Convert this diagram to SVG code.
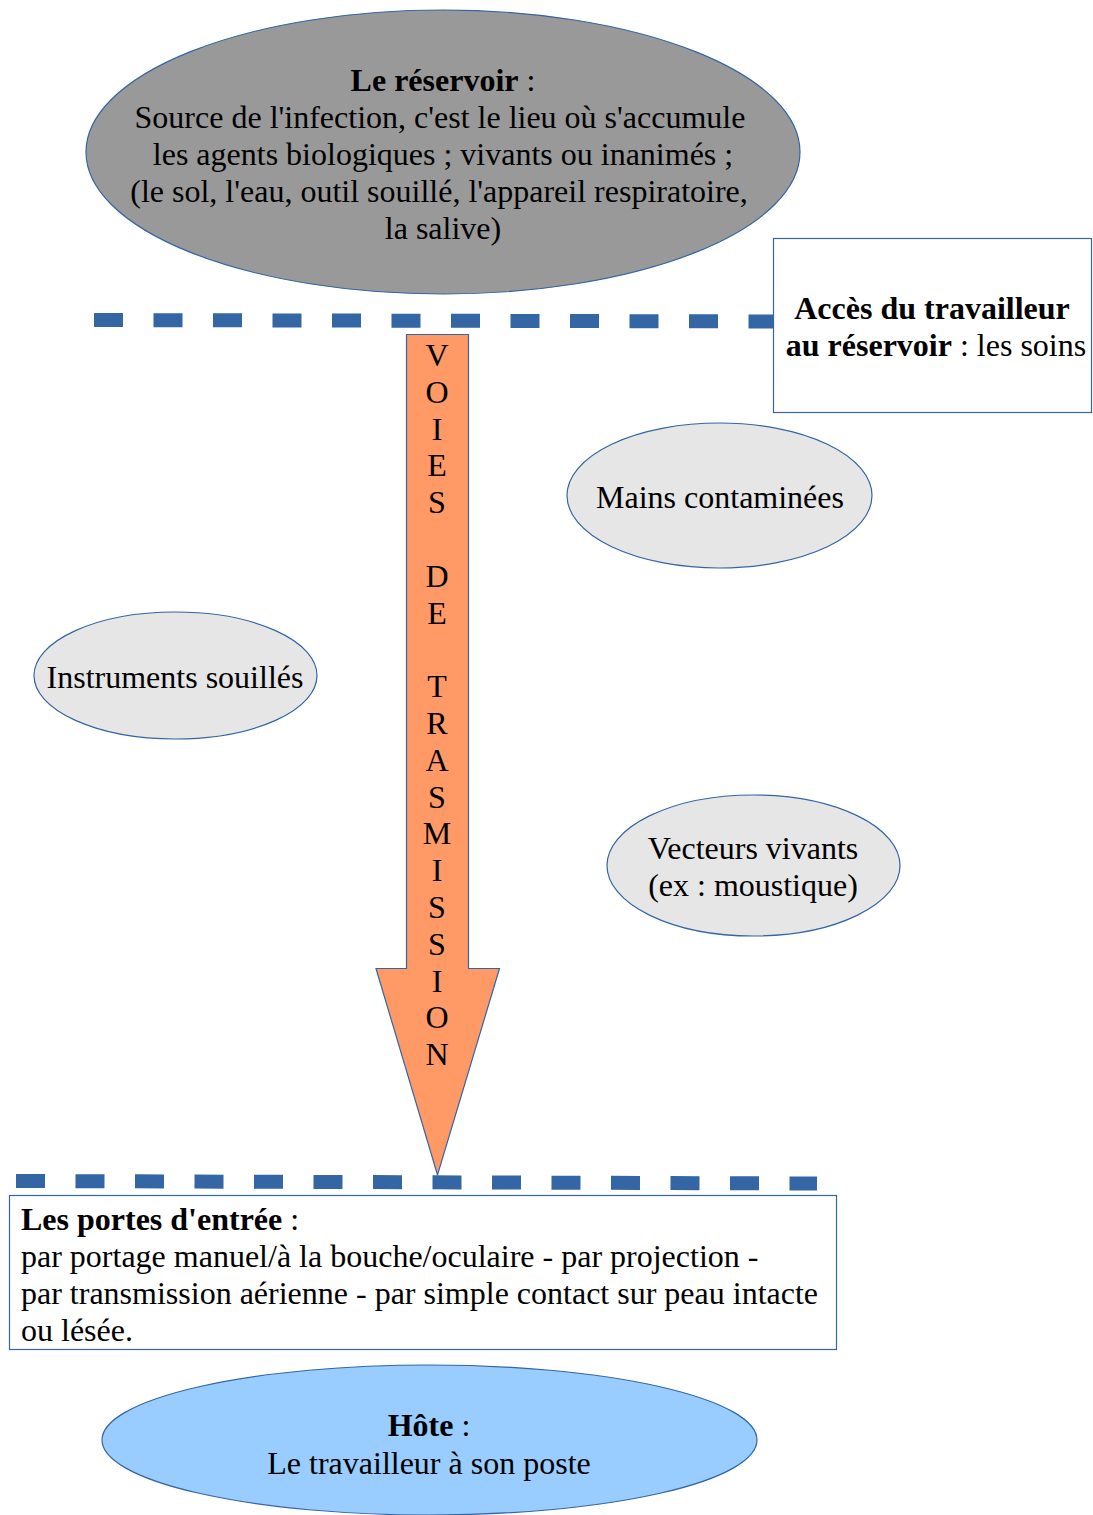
<svg xmlns="http://www.w3.org/2000/svg" width="1093" height="1515" viewBox="0 0 1093 1515">
  <style>
    text { font-family: "Liberation Serif", "Times New Roman", serif; font-size: 32px; fill: #000; }
    .c { text-anchor: middle; }
    .b { font-weight: bold; }
    .edge { stroke: #3465a4; stroke-width: 1.2; }
    .dash { stroke: #3465a4; stroke-width: 14; stroke-dasharray: 29 30.5; fill: none; }
  </style>

  <g id="connectors">
    <line class="dash" x1="94" y1="320" x2="776" y2="321.5"/>
    <line class="dash" x1="16" y1="1181" x2="817" y2="1183.5"/>
  </g>

  <g id="reservoir">
    <ellipse class="edge" cx="443" cy="152" rx="357" ry="142" fill="#999999"/>
    <text class="c" x="443" y="91"><tspan class="b">Le réservoir</tspan> :</text>
    <text class="c" x="440" y="128">Source de l'infection, c'est le lieu où s'accumule</text>
    <text class="c" x="443" y="165">les agents biologiques ; vivants ou inanimés ;</text>
    <text class="c" x="439" y="202">(le sol, l'eau, outil souillé, l'appareil respiratoire,</text>
    <text class="c" x="443" y="239">la salive)</text>
  </g>

  <g id="acces">
    <rect class="edge" x="773.5" y="238.5" width="318" height="174" fill="#ffffff"/>
    <text class="c b" x="932" y="319">Accès du travailleur</text>
    <text class="c" x="936" y="356"><tspan class="b">au réservoir</tspan> : les soins</text>
  </g>

  <g id="voies">
    <path class="edge" d="M406.5,334.5 H468.5 V968.5 H499.5 L437.5,1175 L376,968.5 H406.5 Z" fill="#ff9966"/>
    <g class="c">
      <text x="437" y="366">V</text>
      <text x="437" y="402.8">O</text>
      <text x="437" y="439.6">I</text>
      <text x="437" y="476.4">E</text>
      <text x="437" y="513.2">S</text>
      <text x="437" y="586.8">D</text>
      <text x="437" y="623.6">E</text>
      <text x="437" y="697.2">T</text>
      <text x="437" y="734">R</text>
      <text x="437" y="770.8">A</text>
      <text x="437" y="807.6">S</text>
      <text x="437" y="844.4">M</text>
      <text x="437" y="881.2">I</text>
      <text x="437" y="918">S</text>
      <text x="437" y="954.8">S</text>
      <text x="437" y="991.6">I</text>
      <text x="437" y="1028.4">O</text>
      <text x="437" y="1065.2">N</text>
    </g>
  </g>

  <g id="mains">
    <ellipse class="edge" cx="719.5" cy="495.5" rx="152.5" ry="72.5" fill="#e6e6e6"/>
    <text class="c" x="720" y="508">Mains contaminées</text>
  </g>

  <g id="instruments">
    <ellipse class="edge" cx="175.5" cy="675.5" rx="141.5" ry="63.5" fill="#e6e6e6"/>
    <text class="c" x="175" y="688">Instruments souillés</text>
  </g>

  <g id="vecteurs">
    <ellipse class="edge" cx="753.5" cy="865.5" rx="146.5" ry="70.5" fill="#e6e6e6"/>
    <text class="c" x="753" y="859">Vecteurs vivants</text>
    <text class="c" x="753" y="896">(ex : moustique)</text>
  </g>

  <g id="portes">
    <rect class="edge" x="9.5" y="1195.5" width="827" height="154" fill="#ffffff"/>
    <text x="21" y="1230"><tspan class="b">Les portes d'entrée</tspan> :</text>
    <text x="21" y="1267">par portage manuel/à la bouche/oculaire - par projection -</text>
    <text x="21" y="1304">par transmission aérienne - par simple contact sur peau intacte</text>
    <text x="21" y="1341">ou lésée.</text>
  </g>

  <g id="hote">
    <ellipse class="edge" cx="429.5" cy="1440" rx="327.5" ry="75" fill="#99ccff"/>
    <text class="c" x="429" y="1436"><tspan class="b">Hôte</tspan> :</text>
    <text class="c" x="429" y="1474">Le travailleur à son poste</text>
  </g>
</svg>
